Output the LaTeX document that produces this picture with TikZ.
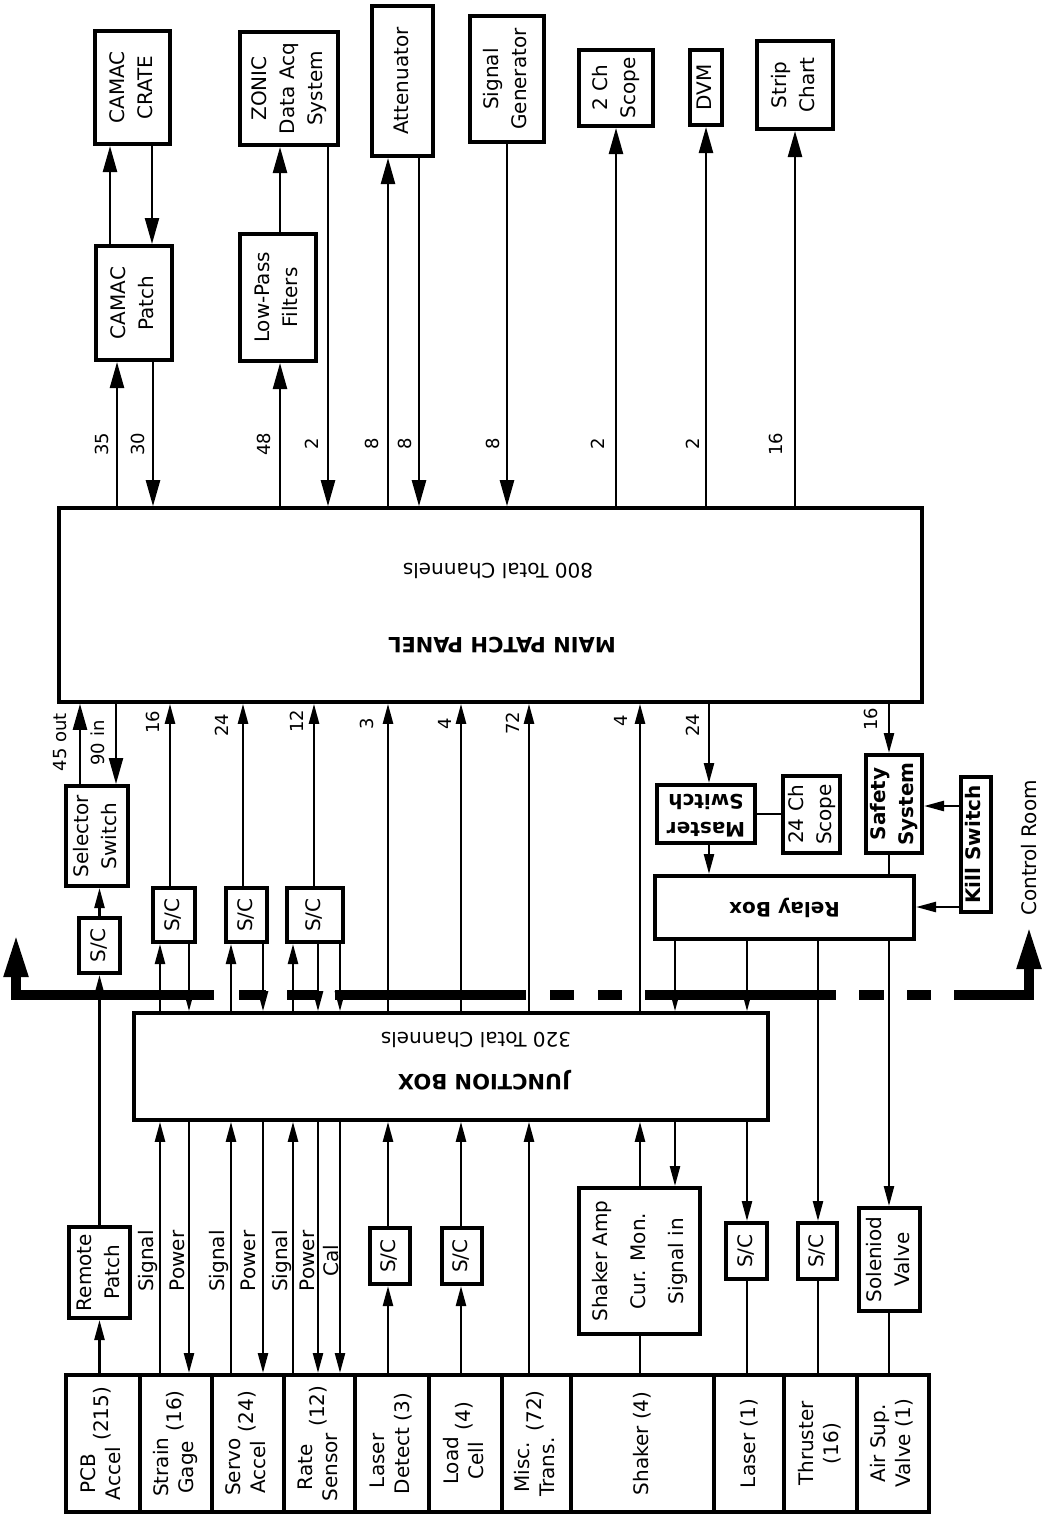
\documentclass[tikz,border=0pt]{standalone}
\usepackage{graphicx}
\usepackage{fontspec}
\setmainfont{DejaVu Sans}
\usetikzlibrary{arrows.meta,positioning}

\newcommand\vtxt[1]{\rotatebox{90}{\begin{tabular}{@{}c@{}}#1\end{tabular}}}
\newcommand\utxt[1]{\rotatebox{180}{\begin{tabular}{@{}c@{}}#1\end{tabular}}}
\newcommand\celltxt[3][c]{\rotatebox{90}{\begin{tabular}[#1]{@{}c@{}}#2\end{tabular}\ #3}}

\tikzset{
  sz/.style 2 args={minimum width=#1*0.5pt,minimum height=#2*0.5pt},
  box/.style={draw,line width=2pt,inner sep=0pt,fill=white},
  panelbox/.style={draw,line width=1.8pt,inner sep=0pt},
  cell/.style={draw,line width=2pt,inner sep=0pt,font=\fontsize{10}{12.5}\selectfont},
  wire/.style={line width=1.2pt},
  arr/.style={wire,-{Triangle[length=13pt,width=7pt]}},
  arrs/.style={wire,-{Triangle[length=10pt,width=5pt]}},
  wall/.style={line width=5pt},
  num/.style={font=\fontsize{9}{10}\selectfont,inner sep=0pt},
  lbl/.style={font=\fontsize{10}{12}\selectfont,inner sep=0pt},
}

\begin{document}
\begin{tikzpicture}[x=0.5pt,y=-0.5pt,font=\fontsize{10}{14}\selectfont]
  \useasboundingbox (0,0) rectangle (1042,1521);

  % instruments above the patch panel
  \node[box,sz={75}{113}] (crate) at (132.5,87.5) {\vtxt{CAMAC\\CRATE}};
  \node[box,sz={76}{114}] (patch) at (134,303) {\vtxt{CAMAC\\Patch}};
  \node[box,sz={98}{113}] (zonic) at (289,88.5) {\vtxt{ZONIC\\Data Acq\\System}};
  \node[box,sz={76}{127}] (lpf) at (278,297.5) {\vtxt{Low-Pass\\Filters}};
  \node[box,sz={61}{150}] (atten) at (402.5,81) {\vtxt{Attenuator}};
  \node[box,sz={74}{126}] (siggen) at (507,79) {\vtxt{Signal\\Generator}};
  \node[box,sz={74}{76}] (scope2) at (616,88) {\vtxt{2 Ch\\Scope}};
  \node[box,sz={32}{75}] (dvm) at (706,87.5) {\vtxt{DVM}};
  \node[box,sz={76}{88}] (strip) at (795,85) {\vtxt{Strip\\Chart}};

  % main patch panel
  \node[panelbox,sz={863}{194}] (panel) at (490.5,605) {};
  \node[font=\fontsize{10.5}{12}\selectfont\bfseries] (ptitle) at (502,645) {\rotatebox{180}{MAIN PATCH PANEL}};
  \node (pnote) at (498,571) {\rotatebox{180}{800 Total Channels}};

  % boxes between panel and junction box
  \node[box,sz={62}{100}] (selsw) at (97,836) {\vtxt{Selector\\Switch}};
  \node[box,sz={41}{55}] (scsel) at (99.5,945.5) {\vtxt{S/C}};
  \node[box,sz={42}{54}] (sc1) at (174,915) {\vtxt{S/C}};
  \node[box,sz={41}{54}] (sc2) at (246.5,915) {\vtxt{S/C}};
  \node[box,sz={56}{54}] (sc3) at (315,915) {\vtxt{S/C}};
  \node[box,sz={98}{58},font=\fontsize{10}{14}\selectfont\bfseries] (master) at (706,814) {\utxt{Master\\Switch}};
  \node[box,sz={57}{77}] (scope24) at (811.5,814.5) {\vtxt{24 Ch\\Scope}};
  \node[box,sz={56}{98},font=\fontsize{10}{14}\selectfont\bfseries] (safety) at (894,804) {\vtxt{Safety\\System}};
  \node[box,sz={30}{135},font=\bfseries] (kill) at (976,844.5) {\vtxt{Kill Switch}};
  \node[box,sz={259}{63},font=\bfseries] (relay) at (784.5,907.5) {\rotatebox{180}{Relay Box}};
  \node[lbl] (ctrl) at (1029,848) {\rotatebox{90}{Control Room}};

  % junction box
  \node[panelbox,sz={634}{107}] (junction) at (451,1066.5) {};
  \node[font=\fontsize{10.5}{12}\selectfont\bfseries] (jtitle) at (484,1080) {\rotatebox{180}{JUNCTION BOX}};
  \node (jnote) at (476,1040) {\rotatebox{180}{320 Total Channels}};

  % boxes below junction box
  \node[box,sz={61}{91}] (remote) at (99.5,1272.5) {\vtxt{Remote\\Patch}};
  \node[box,sz={40}{56}] (scld) at (390,1256) {\vtxt{S/C}};
  \node[box,sz={40}{56}] (sclc) at (462,1256) {\vtxt{S/C}};
  \node[box,sz={121}{146}] (shamp) at (639.5,1261) {\vtxt{Shaker Amp\\[5pt]Cur. Mon.\\[5pt]Signal in}};
  \node[box,sz={41}{56}] (sclas) at (746.5,1251) {\vtxt{S/C}};
  \node[box,sz={39}{56}] (scthr) at (817.5,1251) {\vtxt{S/C}};
  \node[box,sz={61}{103}] (solv) at (889.5,1259.5) {\vtxt{Soleniod\\Valve}};

  % transducers
  \node[cell,sz={74}{137}] (pcb) at (103,1443.5) {\celltxt{PCB\\Accel}{(215)}};
  \node[cell,sz={72}{137}] (strain) at (176,1443.5) {\celltxt{Strain\\Gage}{(16)}};
  \node[cell,sz={72}{137}] (servo) at (248,1443.5) {\celltxt{Servo\\Accel}{(24)}};
  \node[cell,sz={71}{137}] (rate) at (319.5,1443.5) {\celltxt{Rate\\Sensor}{(12)}};
  \node[cell,sz={74}{137}] (ldet) at (392,1443.5) {\celltxt[b]{Laser\\Detect}{(3)}};
  \node[cell,sz={73}{137}] (lcell) at (465.5,1443.5) {\celltxt{Load\\Cell}{(4)}};
  \node[cell,sz={69}{137}] (misc) at (536.5,1443.5) {\celltxt{Misc.\\Trans.}{(72)}};
  \node[cell,sz={143}{137}] (shaker) at (642.5,1443.5) {\rotatebox{90}{Shaker (4)}};
  \node[cell,sz={70}{137}] (laser) at (749,1443.5) {\rotatebox{90}{Laser (1)}};
  \node[cell,sz={73}{137}] (thr) at (820.5,1443.5) {\vtxt{Thruster\\(16)}};
  \node[cell,sz={72}{137}] (air) at (893,1443.5) {\vtxt{Air Sup.\\Valve (1)}};

  % wire columns
  \coordinate (c35) at (117,0); \coordinate (c30) at (153,0);
  \coordinate (cup) at (110,0); \coordinate (cdn) at (152,0);
  \coordinate (c48) at (280,0); \coordinate (cz) at (328,0);
  \coordinate (c8a) at (388,0); \coordinate (c8b) at (419,0);
  \coordinate (cout) at (80,0); \coordinate (cin) at (116,0);
  \coordinate (c16) at (170,0); \coordinate (c24) at (243,0); \coordinate (c12) at (314,0);
  \coordinate (css) at (160,0); \coordinate (csp) at (189,0);
  \coordinate (cvs) at (231,0); \coordinate (cvp) at (263,0);
  \coordinate (crs) at (293,0); \coordinate (crp) at (318,0); \coordinate (crc) at (340,0);
  \coordinate (c3) at (388,0); \coordinate (c4) at (461,0); \coordinate (c72) at (529,0);
  \coordinate (csh) at (640,0); \coordinate (cms) at (709,0); \coordinate (csf) at (889,0);
  \coordinate (cr1) at (675,0); \coordinate (cr2) at (747,0); \coordinate (cr3) at (818,0);
  \coordinate (ky1) at (0,806); \coordinate (ky2) at (0,907);

  % control room wall
  \coordinate (wl) at (16,933); \coordinate (wr) at (1029,925);
  \draw[wall,-{Triangle[length=22pt,width=11pt]}] (214,995) -| (wl);
  \draw[wall] (239,995) -- (266,995) (287,995) -- (319,995) (335,995) -- (526,995)
    (550,995) -- (574,995) (598,995) -- (622,995) (645,995) -- (836,995)
    (859,995) -- (884,995) (907,995) -- (931,995);
  \draw[wall,-{Triangle[length=22pt,width=11pt]}] (954,995) -| (wr);

  % top connections
  \draw[arr] (panel.north -| c35) -- (patch.south -| c35);
  \draw[arr] (patch.south -| c30) -- (panel.north -| c30);
  \draw[arr] (patch.north -| cup) -- (crate.south -| cup);
  \draw[arr] (crate.south -| cdn) -- (patch.north -| cdn);
  \draw[arr] (panel.north -| c48) -- (lpf.south -| c48);
  \draw[arr] (lpf.north -| c48) -- (zonic.south -| c48);
  \draw[arr] (zonic.south -| cz) -- (panel.north -| cz);
  \draw[arr] (panel.north -| c8a) -- (atten.south -| c8a);
  \draw[arr] (atten.south -| c8b) -- (panel.north -| c8b);
  \draw[arr] (siggen.south) -- (panel.north -| siggen.south);
  \draw[arr] (panel.north -| scope2.south) -- (scope2.south);
  \draw[arr] (panel.north -| dvm.south) -- (dvm.south);
  \draw[arr] (panel.north -| strip.south) -- (strip.south);

  % channel counts above the panel
  \node[num] (n35) at (102,444) {\rotatebox{90}{35}};
  \node[num] (n30) at (138,444) {\rotatebox{90}{30}};
  \node[num] (n48) at (264,444) {\rotatebox{90}{48}};
  \node[num] (n2a) at (312,444) {\rotatebox{90}{2}};
  \node[num] (n8a) at (372,444) {\rotatebox{90}{8}};
  \node[num] (n8b) at (405,444) {\rotatebox{90}{8}};
  \node[num] (n8c) at (493,444) {\rotatebox{90}{8}};
  \node[num] (n2b) at (598,444) {\rotatebox{90}{2}};
  \node[num] (n2c) at (693,444) {\rotatebox{90}{2}};
  \node[num] (n16a) at (776,444) {\rotatebox{90}{16}};

  % panel to junction box
  \draw[arr] (selsw.north -| cout) -- (panel.south -| cout);
  \draw[arr] (panel.south -| cin) -- (selsw.north -| cin);
  \draw[arrs] (scsel.north) -- (selsw.south -| scsel.north);
  \draw[arrs] (remote.north) -- (scsel.south -| remote.north);
  \draw[arrs] (pcb.north -| remote.south) -- (remote.south);
  \draw[arrs] (sc1.north -| c16) -- (panel.south -| c16);
  \draw[arrs] (sc2.north -| c24) -- (panel.south -| c24);
  \draw[arrs] (sc3.north -| c12) -- (panel.south -| c12);
  \draw[arrs] (junction.north -| css) -- (sc1.south -| css);
  \draw[arrs] (sc1.south -| csp) -- (junction.north -| csp);
  \draw[arrs] (junction.north -| cvs) -- (sc2.south -| cvs);
  \draw[arrs] (sc2.south -| cvp) -- (junction.north -| cvp);
  \draw[arrs] (junction.north -| crs) -- (sc3.south -| crs);
  \draw[arrs] (sc3.south -| crp) -- (junction.north -| crp);
  \draw[arrs] (sc3.south -| crc) -- (junction.north -| crc);
  \draw[arrs] (junction.north -| c3) -- (panel.south -| c3);
  \draw[arrs] (junction.north -| c4) -- (panel.south -| c4);
  \draw[arrs] (junction.north -| c72) -- (panel.south -| c72);
  \draw[arrs] (junction.north -| csh) -- (panel.south -| csh);
  \draw[arrs] (panel.south -| cms) -- (master.north -| cms);
  \draw[arrs] (master.south -| cms) -- (relay.north -| cms);
  \draw[wire] (master.east) -- (scope24.west |- master.east);
  \draw[arrs] (panel.south -| csf) -- (safety.north -| csf);
  \draw[wire] (safety.south -| csf) -- (relay.north -| csf);
  \draw[arrs] (kill.west |- ky1) -- (safety.east |- ky1);
  \draw[arrs] (kill.west |- ky2) -- (relay.east |- ky2);
  \draw[arrs] (relay.south -| cr1) -- (junction.north -| cr1);
  \draw[arrs] (relay.south -| cr2) -- (junction.north -| cr2);
  \draw[arrs] (relay.south -| cr3) -- (scthr.north -| cr3);
  \draw[arrs] (relay.south -| csf) -- (solv.north -| csf);

  % channel counts below the panel
  \node[num] (n45) at (60,742) {\rotatebox{90}{45 out}};
  \node[num] (n90) at (98,743) {\rotatebox{90}{90 in}};
  \node[num] (n16b) at (153,722) {\rotatebox{90}{16}};
  \node[num] (n24a) at (222,725) {\rotatebox{90}{24}};
  \node[num] (n12) at (297,721) {\rotatebox{90}{12}};
  \node[num] (n3) at (367,724) {\rotatebox{90}{3}};
  \node[num] (n4a) at (445,724) {\rotatebox{90}{4}};
  \node[num] (n72) at (513,723) {\rotatebox{90}{72}};
  \node[num] (n4b) at (621,721) {\rotatebox{90}{4}};
  \node[num] (n24b) at (693,725) {\rotatebox{90}{24}};
  \node[num] (n16c) at (871,719) {\rotatebox{90}{16}};

  % junction box to transducers
  \draw[arrs] (strain.north -| css) -- (junction.south -| css);
  \draw[arrs] (junction.south -| csp) -- (strain.north -| csp);
  \draw[arrs] (servo.north -| cvs) -- (junction.south -| cvs);
  \draw[arrs] (junction.south -| cvp) -- (servo.north -| cvp);
  \draw[arrs] (rate.north -| crs) -- (junction.south -| crs);
  \draw[arrs] (junction.south -| crp) -- (rate.north -| crp);
  \draw[arrs] (junction.south -| crc) -- (rate.north -| crc);
  \draw[arrs] (ldet.north -| c3) -- (scld.south -| c3);
  \draw[arrs] (scld.north -| c3) -- (junction.south -| c3);
  \draw[arrs] (lcell.north -| c4) -- (sclc.south -| c4);
  \draw[arrs] (sclc.north -| c4) -- (junction.south -| c4);
  \draw[arrs] (misc.north -| c72) -- (junction.south -| c72);
  \draw[arrs] (shamp.north -| csh) -- (junction.south -| csh);
  \draw[wire] (shaker.north -| csh) -- (shamp.south -| csh);
  \draw[arrs] (junction.south -| cr1) -- (shamp.north -| cr1);
  \draw[arrs] (junction.south -| cr2) -- (sclas.north -| cr2);
  \draw[wire] (sclas.south -| cr2) -- (laser.north -| cr2);
  \draw[wire] (scthr.south -| cr3) -- (thr.north -| cr3);
  \draw[wire] (solv.south -| csf) -- (air.north -| csf);

  \node[lbl] (sig1) at (148,1261) {\rotatebox{90}{Signal}};
  \node[lbl] (pow1) at (177,1261) {\rotatebox{90}{Power}};
  \node[lbl] (sig2) at (219,1261) {\rotatebox{90}{Signal}};
  \node[lbl] (pow2) at (248,1261) {\rotatebox{90}{Power}};
  \node[lbl] (sig3) at (282,1261) {\rotatebox{90}{Signal}};
  \node[lbl] (pow3) at (307,1261) {\rotatebox{90}{Power}};
  \node[lbl] (cal3) at (331,1261) {\rotatebox{90}{Cal}};
\end{tikzpicture}
\end{document}
